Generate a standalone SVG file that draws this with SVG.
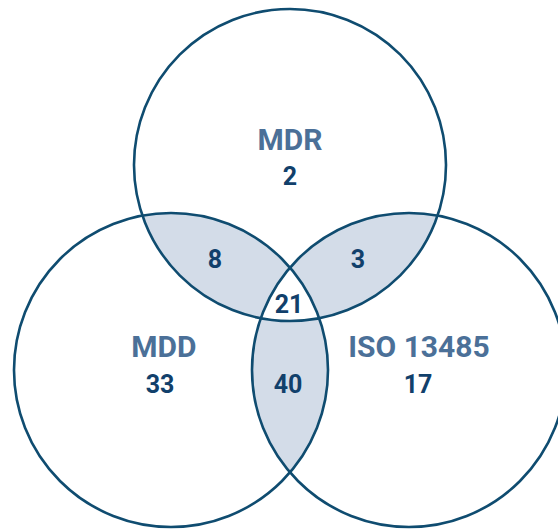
<svg xmlns="http://www.w3.org/2000/svg" width="558" height="529" viewBox="0 0 558 529">
  <style>
    .ring { fill: none; stroke: #0f4c70; stroke-width: 2.6; }
    .shade { fill: #d3dce8; }
    .label { font-family: Roboto, "Liberation Sans", sans-serif; font-weight: 700; font-size: 30px; fill: #4b7098; text-anchor: middle; }
    .count { font-family: Roboto, "Liberation Sans", sans-serif; font-weight: 700; font-size: 25px; fill: #11406b; text-anchor: middle; }
  </style>
  <defs>
    <circle id="cTop" cx="290" cy="165" r="156"/>
    <circle id="cLeft" cx="171" cy="370" r="157"/>
    <circle id="cRight" cx="409" cy="370" r="157"/>
    <clipPath id="clipTop"><use href="#cTop"/></clipPath>
    <clipPath id="clipLeft"><use href="#cLeft"/></clipPath>
    <clipPath id="clipRight"><use href="#cRight"/></clipPath>
  </defs>

  <!-- pairwise overlaps shaded, triple overlap left white -->
  <g id="overlaps">
    <g clip-path="url(#clipTop)"><use href="#cLeft" class="shade"/></g>
    <g clip-path="url(#clipTop)"><use href="#cRight" class="shade"/></g>
    <g clip-path="url(#clipLeft)"><use href="#cRight" class="shade"/></g>
    <g clip-path="url(#clipTop)"><g clip-path="url(#clipLeft)"><use href="#cRight" fill="#ffffff"/></g></g>
  </g>

  <g id="mdr">
    <use href="#cTop" class="ring"/>
    <text class="label" x="290" y="150">MDR</text>
    <text class="count" x="290" y="185">2</text>
  </g>
  <g id="mdd">
    <use href="#cLeft" class="ring"/>
    <text class="label" x="164" y="357">MDD</text>
    <text class="count" x="160" y="393">33</text>
  </g>
  <g id="iso">
    <use href="#cRight" class="ring"/>
    <text class="label" x="419" y="357">ISO 13485</text>
    <text class="count" x="418" y="393">17</text>
  </g>

  <g id="overlap-counts">
    <text class="count" x="215" y="268">8</text>
    <text class="count" x="358" y="268">3</text>
    <text class="count" x="289" y="313">21</text>
    <text class="count" x="288" y="393">40</text>
  </g>
</svg>
